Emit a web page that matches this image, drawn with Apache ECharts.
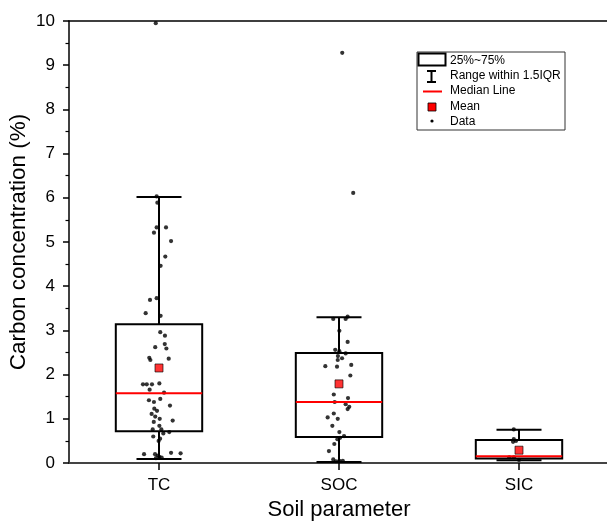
<!DOCTYPE html>
<html>
<head>
<meta charset="utf-8">
<script src="https://cdn.jsdelivr.net/npm/echarts@6/dist/echarts.min.js"></script>
<style>
html,body{margin:0;padding:0;background:#fff;}
#chart{width:607px;height:521px;}
</style>
</head>
<body>
<div id="chart"></div>
<script>
// ---- data ----
const categories = ['TC', 'SOC', 'SIC'];
const yTicks = [0, 1, 2, 3, 4, 5, 6, 7, 8, 9, 10];
const q1 = [0.72, 0.59, 0.10];
const medians = [1.58, 1.38, 0.15];
const q3 = [3.14, 2.49, 0.52];
const whiskerLow = [0.09, 0.02, 0.06];
const whiskerHigh = [6.02, 3.30, 0.75];
const means = [2.15, 1.79, 0.29];

const tcValues = [9.95, 6.03, 5.89, 5.33, 5.33, 5.21, 5.02, 4.67, 4.46, 3.73, 3.69, 3.39, 3.33,
  2.96, 2.88, 2.69, 2.62, 2.59, 2.38, 2.33, 2.36, 1.78, 1.78, 1.78, 1.80, 1.66, 1.59,
  1.42, 1.38, 1.45, 1.30, 1.23, 1.18, 1.11, 1.05, 1.00, 0.93, 0.96, 0.84, 0.76, 0.76,
  0.67, 0.70, 0.60, 0.55, 0.50, 0.20, 0.20, 0.23, 0.22, 0.14, 0.12, 0.17, 0.11];
const tcJitter = [-0.018, -0.013, -0.009, -0.013, 0.039, -0.028, 0.067, 0.035, 0.009, -0.013, -0.05, -0.074, 0.009,
  0.007, 0.033, 0.032, -0.021, 0.041, -0.054, -0.048, 0.054, -0.089, -0.068, -0.039, 0.002, -0.052, 0.028,
  -0.056, -0.028, 0.007, 0.061, -0.026, -0.011, -0.041, -0.021, 0.004, -0.029, 0.076, 0.002, -0.035, 0.013,
  0.024, 0.057, -0.032, 0.006, -0.002, -0.083, -0.022, 0.067, 0.12, 0.002, 0.015, -0.006, -0.017];

const socValues = [9.28, 6.11, 3.26, 3.26, 3.31, 2.99, 2.74, 2.56, 2.53, 2.48, 2.42, 2.37, 2.33,
  2.19, 2.18, 2.22, 1.98, 1.55, 1.47, 1.38, 1.33, 1.27, 1.22, 1.12, 1.03, 1.00, 0.84,
  0.70, 0.61, 0.54, 0.57, 0.43, 0.27, 0.08, 0.04, 0.05, 0.05];
const socJitter = [0.018, 0.079, -0.032, 0.037, 0.048, 0.002, 0.048, -0.021, 0.002, 0.037, -0.006, 0.017, -0.007,
  -0.076, -0.011, 0.068, 0.063, -0.029, 0.05, -0.024, 0.037, 0.057, 0.048, -0.029, -0.063, -0.007, -0.037,
  0.002, 0.028, -0.009, 0.006, -0.026, -0.056, -0.032, -0.017, 0.002, 0.021];

const sicValues = [0.76, 0.54, 0.48, 0.50, 0.13, 0.13, 0.07];
const sicJitter = [-0.029, -0.029, -0.033, -0.017, -0.054, -0.028, 0.0];

const legendLabels = ['25%~75%', 'Range within 1.5IQR', 'Median Line', 'Mean', 'Data'];

// ---- build series data ----
const boxData = categories.map((c, i) => [i, q1[i], q3[i]]);
const whiskerData = categories.map((c, i) => [i, whiskerLow[i], q1[i], q3[i], whiskerHigh[i]]);
const medianData = categories.map((c, i) => [i, medians[i]]);
const meanData = categories.map((c, i) => [i, means[i]]);
const pointData = [];
[[tcValues, tcJitter], [socValues, socJitter], [sicValues, sicJitter]].forEach(([vals, jit], i) => {
  vals.forEach((v, k) => pointData.push([i + jit[k], v]));
});

const FONT = 'Liberation Sans, Arial, sans-serif';
const chart = echarts.init(document.getElementById('chart'), null, {renderer: 'canvas'});

const option = {
  backgroundColor: '#fff',
  animation: false,
  grid: {left: 69, top: 21, width: 540, height: 442, containLabel: false, outerBoundsMode: 'none'},
  xAxis: [
    {
      type: 'category', data: categories, position: 'bottom',
      boundaryGap: true,
      name: 'Soil parameter', nameLocation: 'middle', nameGap: 33,
      nameTextStyle: {fontFamily: FONT, fontSize: 22, color: '#000'},
      axisLine: {lineStyle: {color: '#444', width: 2}},
      axisTick: {show: true, alignWithLabel: true, length: 7, lineStyle: {color: '#000', width: 1.5}},
      axisLabel: {fontFamily: FONT, fontSize: 17, color: '#000', margin: 14},
      splitLine: {show: false}
    },
    {
      type: 'value', position: 'top', min: -0.5, max: 2.5,
      axisLine: {show: true, onZero: false, lineStyle: {color: '#000', width: 1.5}},
      axisTick: {show: false}, axisLabel: {show: false}, splitLine: {show: false}
    }
  ],
  yAxis: {
    type: 'value', min: yTicks[0], max: yTicks[yTicks.length - 1], interval: 1,
    name: 'Carbon concentration (%)', nameLocation: 'middle', nameGap: 39, nameMoveOverlap: false,
    nameTextStyle: {fontFamily: FONT, fontSize: 22.5, color: '#000'},
    axisLine: {show: true, onZero: false, lineStyle: {color: '#000', width: 1.5}},
    axisTick: {show: true, inside: false, length: 6, lineStyle: {color: '#000', width: 1.5}},
    minorTick: {show: true, splitNumber: 2, length: 3.5, lineStyle: {color: '#000', width: 1.2}},
    axisLabel: {fontFamily: FONT, fontSize: 17, color: '#000', margin: 14},
    splitLine: {show: false}
  },
  series: [
    {
      name: legendLabels[1], type: 'custom', xAxisIndex: 0, data: whiskerData,
      encode: {x: 0, y: [1, 2, 3, 4]}, z: 2,
      renderItem: (params, api) => {
        const x = api.value(0);
        const pLow = api.coord([x, api.value(1)]);
        const pQ1 = api.coord([x, api.value(2)]);
        const pQ3 = api.coord([x, api.value(3)]);
        const pHigh = api.coord([x, api.value(4)]);
        const cap = api.size([1, 0])[0] * 0.25;
        const st = {stroke: '#000', lineWidth: 2};
        return {type: 'group', children: [
          {type: 'line', shape: {x1: pQ3[0], y1: pQ3[1], x2: pHigh[0], y2: pHigh[1]}, style: st},
          {type: 'line', shape: {x1: pQ1[0], y1: pQ1[1], x2: pLow[0], y2: pLow[1]}, style: st},
          {type: 'line', shape: {x1: pHigh[0] - cap / 2, y1: pHigh[1], x2: pHigh[0] + cap / 2, y2: pHigh[1]}, style: st},
          {type: 'line', shape: {x1: pLow[0] - cap / 2, y1: pLow[1], x2: pLow[0] + cap / 2, y2: pLow[1]}, style: st}
        ]};
      }
    },
    {
      name: legendLabels[0], type: 'custom', xAxisIndex: 0, data: boxData,
      encode: {x: 0, y: [1, 2]}, z: 3,
      renderItem: (params, api) => {
        const x = api.value(0);
        const lo = api.coord([x, api.value(1)]);
        const hi = api.coord([x, api.value(2)]);
        const w = api.size([1, 0])[0] * 0.48;
        return {type: 'rect', shape: {x: lo[0] - w / 2, y: hi[1], width: w, height: lo[1] - hi[1]},
          style: {fill: 'none', stroke: '#000', lineWidth: 2}};
      }
    },
    {
      name: legendLabels[4], type: 'scatter', xAxisIndex: 1, data: pointData, z: 4,
      symbol: 'circle', symbolSize: 4.2, itemStyle: {color: '#000'}
    },
    {
      name: legendLabels[2], type: 'custom', xAxisIndex: 0, data: medianData,
      encode: {x: 0, y: 1}, z: 5,
      renderItem: (params, api) => {
        const x = api.value(0);
        const p = api.coord([x, api.value(1)]);
        const w = api.size([1, 0])[0] * 0.48;
        return {type: 'line', shape: {x1: p[0] - w / 2, y1: p[1], x2: p[0] + w / 2, y2: p[1]},
          style: {stroke: '#ff0000', lineWidth: 2}};
      }
    },
    {
      name: legendLabels[3], type: 'scatter', xAxisIndex: 0, data: meanData, z: 6,
      symbol: 'rect', symbolSize: 8, itemStyle: {color: '#ff0000', borderColor: '#000', borderWidth: 0.8}
    }
  ],
  graphic: [
    {type: 'rect', shape: {x: 417, y: 52, width: 148, height: 78}, style: {fill: '#fff', stroke: '#333', lineWidth: 1}, z: 100},
    {type: 'rect', shape: {x: 418.5, y: 53.5, width: 27, height: 12}, style: {fill: '#fff', stroke: '#000', lineWidth: 2}, z: 101},
    {type: 'text', x: 450, y: 60.5, style: {text: legendLabels[0], font: '12px ' + FONT, fill: '#000', verticalAlign: 'middle'}, z: 101},
    {type: 'line', shape: {x1: 427, y1: 71, x2: 436, y2: 71}, style: {stroke: '#000', lineWidth: 2}, z: 101},
    {type: 'line', shape: {x1: 431.5, y1: 71, x2: 431.5, y2: 82}, style: {stroke: '#000', lineWidth: 2}, z: 101},
    {type: 'line', shape: {x1: 427, y1: 82, x2: 436, y2: 82}, style: {stroke: '#000', lineWidth: 2}, z: 101},
    {type: 'text', x: 450, y: 75.5, style: {text: legendLabels[1], font: '12px ' + FONT, fill: '#000', verticalAlign: 'middle'}, z: 101},
    {type: 'line', shape: {x1: 423, y1: 91.5, x2: 442, y2: 91.5}, style: {stroke: '#ff0000', lineWidth: 2}, z: 101},
    {type: 'text', x: 450, y: 91, style: {text: legendLabels[2], font: '12px ' + FONT, fill: '#000', verticalAlign: 'middle'}, z: 101},
    {type: 'rect', shape: {x: 428, y: 103, width: 8, height: 8}, style: {fill: '#ff0000', stroke: '#000', lineWidth: 0.8}, z: 101},
    {type: 'text', x: 450, y: 106.5, style: {text: legendLabels[3], font: '12px ' + FONT, fill: '#000', verticalAlign: 'middle'}, z: 101},
    {type: 'circle', shape: {cx: 432, cy: 121, r: 1.6}, style: {fill: '#000'}, z: 101},
    {type: 'text', x: 450, y: 121.5, style: {text: legendLabels[4], font: '12px ' + FONT, fill: '#000', verticalAlign: 'middle'}, z: 101}
  ]
};
chart.setOption(option);
</script>
</body>
</html>
